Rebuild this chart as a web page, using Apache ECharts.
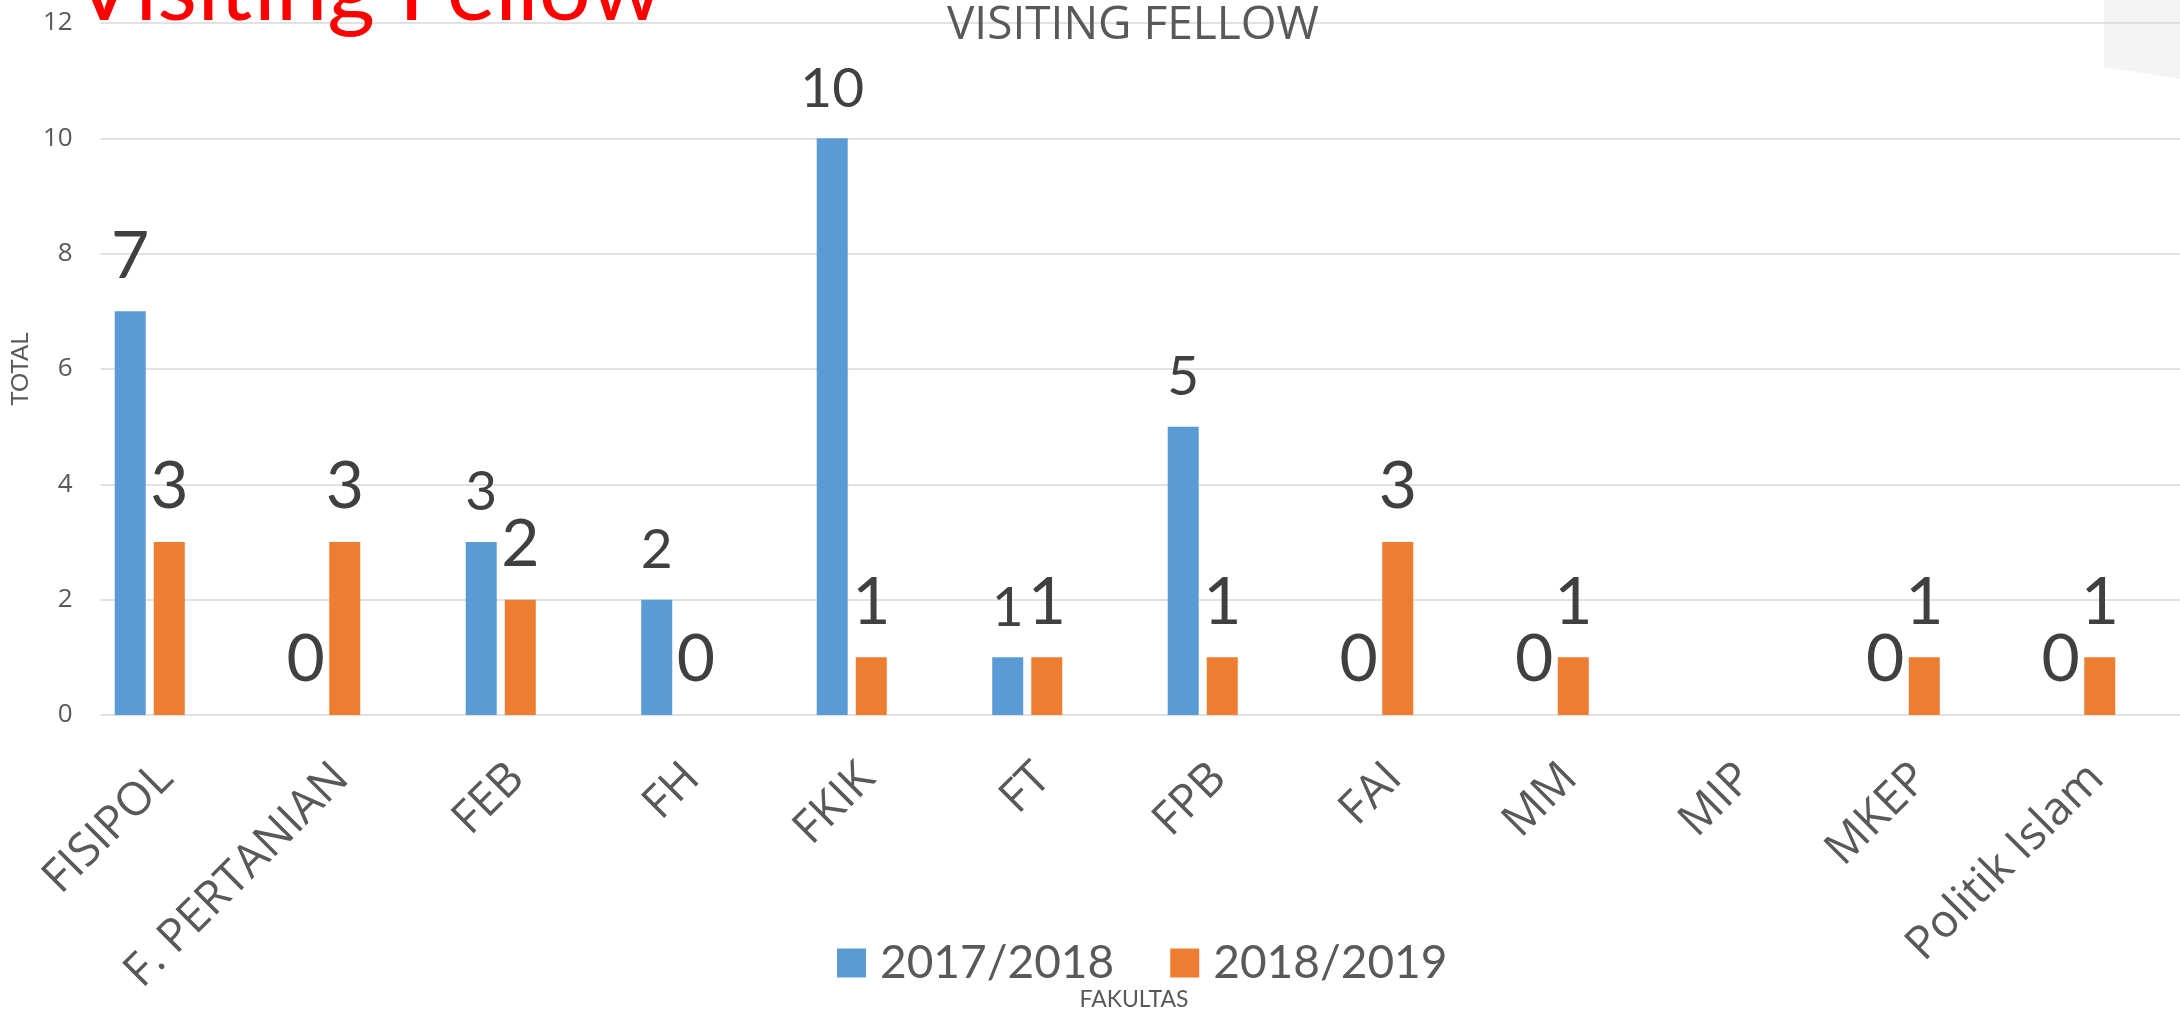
<!DOCTYPE html>
<html>
<head>
<meta charset="utf-8">
<title>Visiting Fellow</title>
<script src="https://cdn.jsdelivr.net/npm/echarts@6/dist/echarts.min.js"></script>
<style>
  html, body { margin: 0; padding: 0; background: #fff; }
  #chart { width: 2180px; height: 1014px; }
</style>
</head>
<body>
<div id="chart"></div>
<script>
const faculties = ["FISIPOL", "F. PERTANIAN", "FEB", "FH", "FKIK", "FT", "FPB", "FAI", "MM", "MIP", "MKEP", "Politik Islam"];
const years = ["2017/2018", "2018/2019"];
const fellows2017 = [7, 0, 3, 2, 10, 1, 5, 0, 0, null, 0, 0];
const fellows2018 = [3, 3, 2, 0, 1, 1, 1, 3, 1, null, 1, 1];
const yTicks = [0, 2, 4, 6, 8, 10, 12];

// on the slide these 2017/2018 labels were typed in a smaller size
const smallLabels2017 = ["FEB", "FH", "FKIK", "FT", "FPB"];

const yMin = yTicks[0];
const yMax = yTicks[yTicks.length - 1];
const yStep = yTicks[1] - yTicks[0];

const grey = "#595959";
const gridColor = "#D9D9D9";

const chart = echarts.init(document.getElementById("chart"));

const option = {
  animation: false,
  color: ["#5B9BD5", "#ED7D31"],
  grid: [
    { left: 62, right: 12, top: 23, bottom: 299 },
    { left: 82, right: 0, top: 23, bottom: 299 }
  ],
  xAxis: [
    {
      type: "category",
      gridIndex: 0,
      data: faculties,
      axisLine: { show: false },
      axisTick: { show: false },
      axisLabel: {
        interval: 0,
        rotate: 45,
        margin: 40,
        align: "right",
        verticalAlign: "top",
        fontSize: 46,
        fontFamily: "Open Sans",
        color: grey
      }
    },
    { type: "value", gridIndex: 1, show: false, min: 0, max: 1 }
  ],
  yAxis: [
    { type: "value", gridIndex: 0, min: yMin, max: yMax, interval: yStep, show: false },
    {
      type: "value",
      gridIndex: 1,
      min: yMin,
      max: yMax,
      interval: yStep,
      name: "TOTAL",
      nameLocation: "middle",
      nameRotate: 90,
      nameGap: 43,
      nameTextStyle: { fontSize: 24, fontFamily: "Lato", color: grey },
      axisLine: { show: false },
      axisTick: { show: false },
      axisLabel: { margin: 28, fontSize: 26, fontFamily: "Open Sans", color: grey },
      splitLine: { lineStyle: { color: gridColor, width: 1.5 } }
    }
  ],
  legend: {
    data: years,
    left: 837,
    top: 940,
    padding: 0,
    icon: "rect",
    itemWidth: 29,
    itemHeight: 29,
    itemGap: 56,
    textStyle: { fontSize: 46, fontFamily: "Lato", color: grey, padding: [0, 0, 0, 9] }
  },
  graphic: [
    {
      type: "polygon",
      z: -10,
      shape: { points: [[2104, 0], [2180, 0], [2180, 79], [2104, 67]] },
      style: { fill: "#F4F4F4" }
    },
    {
      type: "text",
      z: 100,
      x: 73,
      y: -10,
      style: {
        text: "Visiting Fellow",
        font: "92px Lato",
        fill: "#FF0000",
        textAlign: "left",
        textVerticalAlign: "middle"
      }
    },
    {
      type: "text",
      z: 50,
      x: 1133,
      y: 26,
      style: {
        text: "VISITING FELLOW",
        font: "46px 'Open Sans'",
        fill: grey,
        textAlign: "center",
        textVerticalAlign: "middle"
      }
    },
    {
      type: "text",
      z: 50,
      x: 1134,
      y: 1000,
      style: {
        text: "FAKULTAS",
        font: "23px Lato",
        fill: grey,
        textAlign: "center",
        textVerticalAlign: "middle"
      }
    }
  ],
  series: [
    {
      name: years[0],
      type: "bar",
      xAxisIndex: 0,
      yAxisIndex: 0,
      barWidth: 31,
      barGap: "26%",
      data: fellows2017.map((v, i) => ({
        value: v,
        label: smallLabels2017.includes(faculties[i]) ? { fontSize: 55 } : {}
      })),
      label: { show: true, position: "top", distance: 22, fontSize: 66, fontFamily: "Lato", color: "#404040" }
    },
    {
      name: years[1],
      type: "bar",
      xAxisIndex: 0,
      yAxisIndex: 0,
      barWidth: 31,
      barGap: "26%",
      data: fellows2018,
      label: { show: true, position: "top", distance: 22, fontSize: 66, fontFamily: "Lato", color: "#404040" }
    }
  ]
};

chart.setOption(option);
</script>
</body>
</html>
